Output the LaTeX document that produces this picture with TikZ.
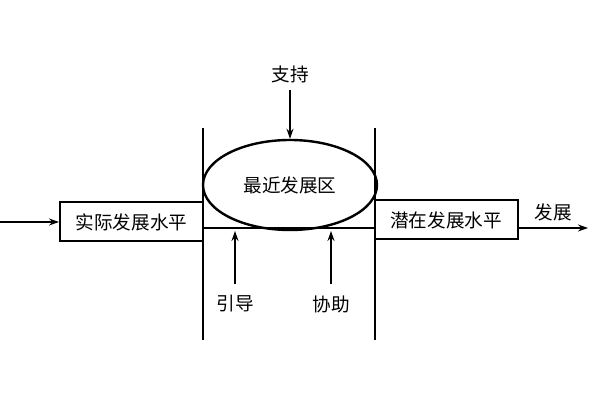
\documentclass[tikz,border=0pt]{standalone}
\usepackage{fontspec}
\setmainfont{Noto Sans CJK SC}
\usetikzlibrary{arrows.meta,shapes.geometric}
\begin{document}
\begin{tikzpicture}[x=0.5pt,y=-0.5pt,
  box/.style={draw,line width=1pt,minimum width=71.5pt,minimum height=19.5pt,inner sep=0pt,font=\fontsize{9.3pt}{10pt}\selectfont},
  lbl/.style={font=\fontsize{9.3pt}{10pt}\selectfont},
  arr/.style={-{Stealth[length=5pt,width=3.5pt]},line width=0.6pt},
  ln/.style={line width=0.6pt}]
\useasboundingbox (0,0) rectangle (600,400);
\node[box] (L) at (131.5,222) {实际发展水平};
\node[box] (R) at (446,220) {潜在发展水平};
\node[draw,ellipse,line width=1.2pt,minimum width=87pt,minimum height=45pt,inner sep=0pt,lbl] (E) at (290,185) {最近发展区};
\coordinate (s) at (0,222);
\draw[arr] (s) -- (L.west);
\coordinate (v1a) at (203,128); \coordinate (v1b) at (203,340);
\coordinate (v2a) at (375,128); \coordinate (v2b) at (375,340);
\draw[ln] (v1a) -- (v1b);
\draw[ln] (v2a) -- (v2b);
\coordinate (ha) at (203,228); \coordinate (hb) at (375,228);
\draw[ln] (ha) -- (hb);
\coordinate (fe) at (588,228);
\draw[arr] (R.east |- fe) -- (fe);
\node[lbl] (fz) at (553,212) {发展};
\node[lbl] (zc) at (290,74) {支持};
\draw[arr] (zc.south) -- (E.north);
\node[lbl] (yd) at (235,304) {引导};
\coordinate (yt) at (235,231);
\draw[arr] (yd.north) ++(0,-4) -- (yt);
\node[lbl] (xz) at (331,304) {协助};
\coordinate (xt) at (331,231);
\draw[arr] (xz.north) ++(0,-4) -- (xt);
\end{tikzpicture}
\end{document}
